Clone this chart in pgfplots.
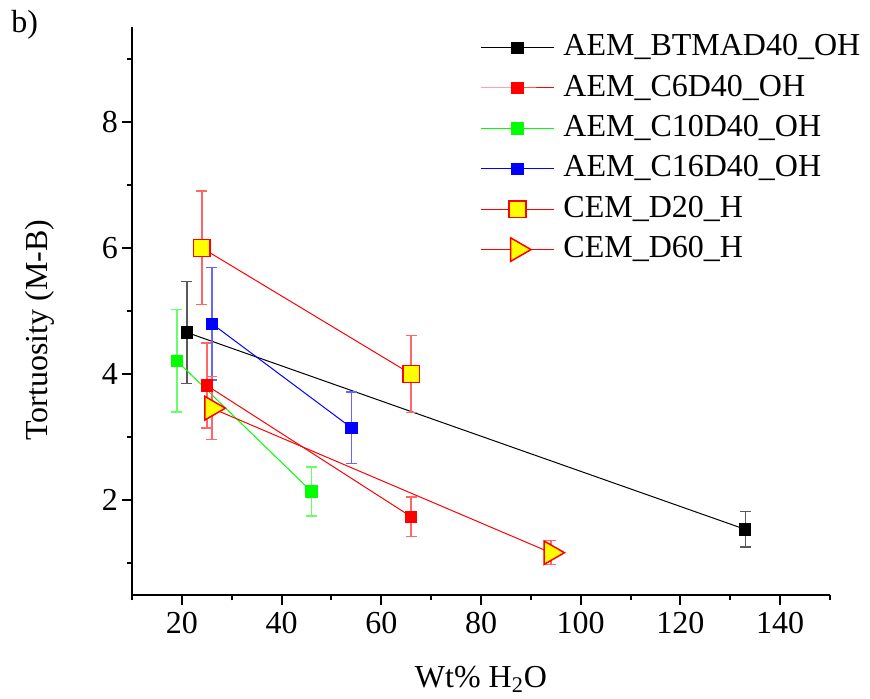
\documentclass[border=0pt]{standalone}
\usepackage{pgfplots}
\pgfplotsset{compat=1.18}
\usepackage{fontspec}
\setmainfont{Liberation Serif}
\definecolor{cgreen}{RGB}{0,255,0}
\definecolor{cblue}{RGB}{0,0,255}
\definecolor{cred}{RGB}{255,0,0}
\definecolor{cyel}{RGB}{255,255,0}
\begin{document}
\begin{tikzpicture}
\path[use as bounding box] (0,0) rectangle (435pt,349.5pt);
\node[anchor=base west, inner sep=0pt, font=\fontsize{16}{19}\selectfont] at (5.5pt,333pt) {b)};
\begin{axis}[
  at={(66pt,52pt)}, anchor=south west,
  width=349pt, height=284pt, scale only axis,
  xmin=10, xmax=150, ymin=0.5, ymax=9.5,
  axis x line=bottom, axis y line=left,
  axis line style={-, line width=1pt},
  xtick={20,40,...,140}, ytick={2,4,6,8},
  minor xtick={10,30,...,150}, minor ytick={1,3,5,7,9},
  tick align=outside,
  major tick length=5pt, minor tick length=2.75pt,
  every tick/.style={line width=1pt, black},
  tick label style={font=\fontsize{16}{19}\selectfont},
  yticklabel style={xshift=1.5pt},
  /pgf/number format/assume math mode=true,
  xlabel={Wt\% H\textsubscript{2}O},
  ylabel={Tortuosity (M-B)},
  every axis x label/.style={at={(axis description cs:0.5,-0.162)}, anchor=base, font=\fontsize{16}{19}\selectfont},
  every axis y label/.style={at={(axis description cs:-0.1318,0.4666)}, rotate=90, anchor=center, font=\fontsize{16}{19}\selectfont},
  legend cell align=left,
  legend style={at={(axis description cs:0.4986,1.0)}, anchor=north west, draw=none, fill=none,
    font=\fontsize{16}{19}\selectfont, inner sep=0pt, row sep=0pt,
    nodes={inner ysep=2pt, inner xsep=4.5pt, text height=12.2pt, text depth=4pt}},
  legend image code/.code={\draw[mark repeat=2,mark phase=2] plot coordinates {(0pt,0pt) (18.25pt,0pt) (36.5pt,0pt)};},
  error bars/y dir=both, error bars/y explicit,
]
\addplot[black, line width=0.5pt, mark=square*, mark size=2.8pt, mark options={fill=black, line width=0.4pt},
  error bars/error bar style={black!65, line width=0.75pt},
  error bars/error mark options={rotate=90, mark size=2.75pt, line width=0.75pt, black!65}]
  coordinates {(21,4.66) +- (0,0.81) (133,1.54) +- (0,0.28)};
\addlegendentry{AEM\_BTMAD40\_OH}
\addplot[cred, line width=0.5pt, mark=square*, mark size=2.8pt, mark options={fill=cred, line width=0.4pt},
  error bars/error bar style={cred!60, line width=0.75pt},
  error bars/error mark options={rotate=90, mark size=2.75pt, line width=0.75pt, cred!60}]
  coordinates {(25,3.82) +- (0,0.67) (66,1.74) +- (0,0.31)};
\addlegendentry{AEM\_C6D40\_OH}
\addplot[cgreen, line width=0.5pt, mark=square*, mark size=2.8pt, mark options={fill=cgreen, line width=0.4pt},
  error bars/error bar style={cgreen!60, line width=0.75pt},
  error bars/error mark options={rotate=90, mark size=2.75pt, line width=0.75pt, cgreen!60}]
  coordinates {(19,4.21) +- (0,0.81) (46,2.14) +- (0,0.39)};
\addlegendentry{AEM\_C10D40\_OH}
\addplot[cblue, line width=0.5pt, mark=square*, mark size=2.8pt, mark options={fill=cblue, line width=0.4pt},
  error bars/error bar style={cblue!60, line width=0.75pt},
  error bars/error mark options={rotate=90, mark size=2.75pt, line width=0.75pt, cblue!60}]
  coordinates {(26,4.80) +- (0,0.89) (54,3.15) +- (0,0.57)};
\addlegendentry{AEM\_C16D40\_OH}
\addplot[cred, line width=0.5pt, mark=square*, mark size=4.2pt, mark options={fill=cyel, draw=cred, line width=0.75pt},
  error bars/error bar style={cred!60, line width=0.75pt},
  error bars/error mark options={rotate=90, mark size=2.75pt, line width=0.75pt, cred!60}]
  coordinates {(24,6.0) +- (0,0.9) (66,4.0) +- (0,0.61)};
\addlegendentry{CEM\_D20\_H}
\addplot[cred, line width=0.5pt, mark=triangle*, mark size=6.8pt, mark options={fill=cyel, draw=cred, line width=0.75pt, rotate=-90},
  error bars/error bar style={cred!60, line width=0.75pt},
  error bars/error mark options={rotate=90, mark size=2.75pt, line width=0.75pt, cred!60}]
  coordinates {(26,3.46) +- (0,0.5) (94,1.17) +- (0,0.19)};
\addlegendentry{CEM\_D60\_H}
\end{axis}
\end{tikzpicture}
\end{document}
